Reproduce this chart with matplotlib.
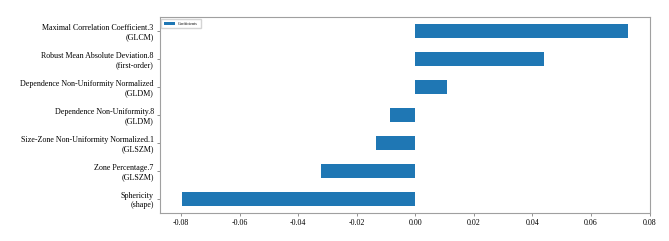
import matplotlib
matplotlib.use("Agg")
import matplotlib.pyplot as plt
import numpy as np

plt.rcParams['font.family'] = ['Liberation Serif', 'DejaVu Serif']

# features ordered bottom -> top
features = [
    "Sphericity\n(shape)",
    "Zone Percentage.7\n(GLSZM)",
    "Size-Zone Non-Uniformity Normalized.1\n(GLSZM)",
    "Dependence Non-Uniformity.8\n(GLDM)",
    "Dependence Non-Uniformity Normalized\n(GLDM)",
    "Robust Mean Absolute Deviation.8\n(first-order)",
    "Maximal Correlation Coefficient.3\n(GLCM)",
]
coefficients = [-0.0796, -0.0322, -0.0133, -0.0088, 0.0108, 0.0438, 0.0726]
xticks = [-0.08, -0.06, -0.04, -0.02, 0.00, 0.02, 0.04, 0.06, 0.08]

fig = plt.figure(figsize=(6.69, 2.41), dpi=100)
ax = fig.add_axes([0.239, 0.116, 0.733, 0.812])

y = np.arange(len(features))
ax.barh(y, coefficients, height=0.5, color='#1f77b4', label='Coefficients')
ax.set_yticks(y)
ax.set_yticklabels(features, fontsize=5.8)
ax.set_ylim(-0.5, len(features) - 0.5)
ax.set_xticks(xticks)
ax.set_xticklabels([f"{v:.2f}" for v in xticks], fontsize=5.8)
ax.margins(x=0.05)

for sp in ax.spines.values():
    sp.set_color('#a0a0a0')
    sp.set_linewidth(0.8)
ax.tick_params(length=2.5, width=0.6, color='#808080', pad=2)

ax.legend(loc='upper left', fontsize=3.0, frameon=True, framealpha=0.9,
          edgecolor='#d0d0d0', handlelength=2.6, borderpad=0.7,
          borderaxespad=0.3)

fig.savefig('out.png', dpi=100)
